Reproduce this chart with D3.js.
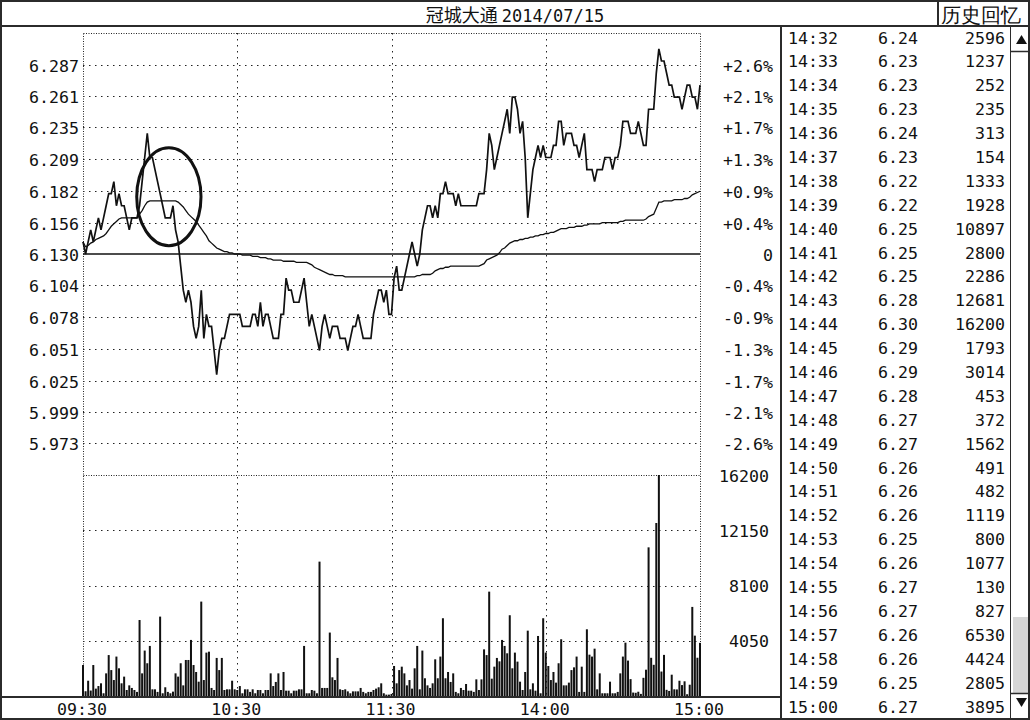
<!DOCTYPE html>
<html><head><meta charset="utf-8">
<script src="https://cdn.jsdelivr.net/npm/d3@7"></script>
<style>
html,body{margin:0;padding:0;background:#fff;}
svg{display:block;}
text{font-family:"DejaVu Sans Mono",monospace;fill:#111;}
</style></head><body>
<svg id="chart" width="1030" height="720"></svg>
<script>
// ---------------- data ----------------
const stockName = "冠城大通";
const tradeDate = "2014/07/15";
const historyLabel = "历史回忆";
const preClose = 6.13;
const priceTickLabels = ["6.287","6.261","6.235","6.209","6.182","6.156","6.130","6.104","6.078","6.051","6.025","5.999","5.973"];
const pctTickLabels = ["+2.6%","+2.1%","+1.7%","+1.3%","+0.9%","+0.4%","0","-0.4%","-0.9%","-1.3%","-1.7%","-2.1%","-2.6%"];
const volTickValues = [16200, 12150, 8100, 4050];
const timeTickLabels = ["09:30","10:30","11:30","14:00","15:00"];
const timeTickIndex = [0, 60, 120, 180, 240];

const prices = [
6.14,6.13,6.14,6.15,6.14,6.15,6.16,6.15,6.16,6.17,
6.18,6.18,6.19,6.17,6.18,6.17,6.17,6.16,6.15,6.16,
6.16,6.16,6.17,6.19,6.21,6.23,6.21,6.21,6.20,6.19,
6.18,6.17,6.16,6.16,6.16,6.17,6.15,6.14,6.12,6.10,
6.09,6.10,6.09,6.07,6.06,6.07,6.10,6.06,6.08,6.07,
6.07,6.05,6.03,6.05,6.06,6.06,6.07,6.08,6.08,6.08,
6.08,6.08,6.07,6.07,6.07,6.07,6.08,6.08,6.07,6.09,
6.07,6.08,6.08,6.07,6.06,6.06,6.06,6.08,6.08,6.11,
6.10,6.10,6.09,6.09,6.09,6.10,6.11,6.09,6.07,6.08,
6.07,6.06,6.05,6.07,6.08,6.07,6.06,6.07,6.07,6.07,
6.06,6.06,6.06,6.05,6.06,6.07,6.07,6.08,6.07,6.06,
6.06,6.06,6.06,6.08,6.09,6.10,6.10,6.09,6.10,6.08,
6.08,6.11,6.12,6.10,6.10,6.11,6.12,6.13,6.14,6.13,
6.12,6.13,6.15,6.16,6.17,6.17,6.16,6.17,6.16,6.18,
6.18,6.19,6.18,6.18,6.18,6.17,6.18,6.17,6.17,6.17,
6.17,6.17,6.17,6.17,6.18,6.18,6.18,6.20,6.23,6.22,
6.20,6.21,6.22,6.23,6.24,6.25,6.23,6.26,6.26,6.25,
6.23,6.24,6.21,6.16,6.18,6.20,6.21,6.22,6.21,6.22,
6.21,6.21,6.21,6.22,6.22,6.24,6.24,6.22,6.23,6.23,
6.23,6.22,6.22,6.21,6.22,6.23,6.20,6.20,6.20,6.19,
6.20,6.20,6.20,6.21,6.21,6.21,6.20,6.21,6.21,6.22,
6.24,6.24,6.24,6.23,6.23,6.23,6.24,6.23,6.22,6.22,
6.25,6.25,6.25,6.28,6.30,6.29,6.29,6.28,6.27,6.27,
6.26,6.26,6.26,6.25,6.26,6.27,6.27,6.26,6.26,6.25,6.27
];

const avgPrices = [
6.140,6.136,6.137,6.139,6.140,6.142,6.143,6.144,6.145,6.147,
6.150,6.153,6.155,6.157,6.159,6.160,6.160,6.160,6.160,6.160,
6.160,6.160,6.163,6.166,6.170,6.173,6.174,6.174,6.174,6.174,
6.174,6.174,6.174,6.174,6.174,6.174,6.174,6.173,6.171,6.169,
6.166,6.163,6.161,6.159,6.157,6.154,6.151,6.148,6.145,6.141,
6.139,6.137,6.135,6.134,6.133,6.132,6.132,6.131,6.131,6.130,
6.130,6.130,6.129,6.129,6.129,6.129,6.128,6.128,6.128,6.127,
6.127,6.127,6.126,6.126,6.125,6.125,6.125,6.125,6.124,6.124,
6.124,6.124,6.124,6.123,6.123,6.123,6.123,6.123,6.122,6.121,
6.119,6.118,6.117,6.116,6.115,6.114,6.113,6.113,6.112,6.112,
6.112,6.112,6.111,6.111,6.111,6.111,6.111,6.111,6.111,6.111,
6.111,6.111,6.111,6.111,6.111,6.111,6.111,6.111,6.111,6.111,
6.111,6.111,6.111,6.111,6.111,6.111,6.111,6.111,6.111,6.111,
6.112,6.112,6.113,6.113,6.113,6.113,6.114,6.116,6.117,6.118,
6.118,6.119,6.119,6.120,6.120,6.120,6.120,6.120,6.120,6.120,
6.120,6.120,6.120,6.120,6.120,6.121,6.122,6.125,6.126,6.127,
6.128,6.129,6.131,6.134,6.135,6.137,6.139,6.140,6.141,6.141,
6.142,6.142,6.143,6.143,6.144,6.144,6.145,6.145,6.146,6.146,
6.147,6.147,6.148,6.148,6.149,6.150,6.151,6.151,6.151,6.152,
6.152,6.152,6.153,6.153,6.153,6.154,6.154,6.155,6.155,6.155,
6.155,6.155,6.156,6.156,6.156,6.156,6.156,6.156,6.156,6.157,
6.157,6.158,6.158,6.158,6.158,6.158,6.158,6.158,6.158,6.159,
6.161,6.162,6.163,6.168,6.173,6.173,6.174,6.174,6.174,6.174,
6.175,6.175,6.175,6.175,6.176,6.176,6.177,6.179,6.180,6.181,6.182
];

const volumes = [
2270,350,1120,400,2270,540,730,930,200,1660,
3000,1900,1170,2890,2030,930,1420,440,780,590,
440,300,5570,1660,3330,2400,3670,490,490,300,
5820,200,640,300,200,320,1660,1420,2400,780,
2640,2640,4110,2270,1760,1050,6920,1170,3180,3250,
590,440,2790,1900,2790,440,490,490,1120,490,
440,730,200,490,490,300,490,200,440,440,
200,440,440,1660,730,1030,1660,440,1760,390,
390,200,390,390,490,490,3670,200,200,440,
390,200,9850,590,590,590,4650,1370,1170,2790,
490,440,490,340,200,340,340,340,590,300,
200,300,300,440,540,640,930,200,100,100,
150,2200,930,1900,2150,1660,780,1170,540,2030,
3670,490,3330,1300,780,590,930,2690,1300,2890,
5700,1300,1760,1030,1660,300,200,590,440,880,
390,390,300,1220,440,1220,3420,3000,7650,1270,
2150,2790,2540,4110,3670,3130,5920,2030,3180,2520,
1050,440,1760,4790,490,930,390,4400,200,5700,
3180,2200,1170,1760,980,2400,4160,780,780,980,
1900,2100,2890,300,2150,300,4890,3030,2890,3470,
490,1660,200,200,200,1050,200,200,300,1660,
2890,3910,2596,1237,252,235,313,154,1333,1928,
10897,2800,2286,12681,16200,1793,3014,453,372,1562,
491,482,1119,800,1077,130,827,6530,4424,2805,3895
];

const tableTimes = ["14:32","14:33","14:34","14:35","14:36","14:37","14:38","14:39","14:40","14:41","14:42","14:43","14:44","14:45","14:46","14:47","14:48","14:49","14:50","14:51","14:52","14:53","14:54","14:55","14:56","14:57","14:58","14:59","15:00"];
const tableStartIndex = 212;

// annotation ellipse (in data units)
const mark = {minute: 33.4, price: 6.1775, rMinutes: 12.5, rPrice: 0.0406};

// ---------------- layout ----------------
const svg = d3.select("#chart");
const L = 83, R = 700, T = 33, MID = 475, B = 696;
const frame = "#2b2b2b";
const span = 0.36640;   // total price span (14 ticks)
const x = d3.scaleLinear().domain([0, 240]).range([L, R]);
const y = d3.scaleLinear().domain([preClose - span/2, preClose + span/2]).range([MID, T]);
const yv = d3.scaleLinear().domain([0, 16200]).range([B, MID]);

svg.append("rect").attr("x",0).attr("y",0).attr("width",1030).attr("height",720).attr("fill","#fff");

// grid
const g = svg.append("g");
const dotted = "1.5,4.5", dense = "1,1.5";
priceTickLabels.forEach(t => {
  const v = +t;
  if (t === "6.130") return;
  g.append("line").attr("x1",L).attr("x2",R).attr("y1",Math.round(y(v))+0.5).attr("y2",Math.round(y(v))+0.5)
    .attr("stroke","#222").attr("stroke-dasharray",dotted);
});
volTickValues.slice(1).forEach(v => {
  g.append("line").attr("x1",L).attr("x2",R).attr("y1",Math.round(yv(v))+0.5).attr("y2",Math.round(yv(v))+0.5)
    .attr("stroke","#222").attr("stroke-dasharray",dotted);
});
[60,120,180].forEach(m => {
  g.append("line").attr("x1",Math.round(x(m))+0.5).attr("x2",Math.round(x(m))+0.5).attr("y1",T).attr("y2",B)
    .attr("stroke","#222").attr("stroke-dasharray",dotted);
});
// dense borders
[[L,T,R,T],[L,MID,R,MID],[L,T,L,B],[R,T,R,B]].forEach(([x1,y1,x2,y2]) => {
  g.append("line").attr("x1",Math.round(x1)+0.5).attr("x2",Math.round(x2)+0.5).attr("y1",Math.round(y1)+0.5).attr("y2",Math.round(y2)+0.5)
    .attr("stroke","#222").attr("stroke-dasharray",dense);
});
// pre-close line
g.append("line").attr("x1",L).attr("x2",R).attr("y1",y(preClose)).attr("y2",y(preClose)).attr("stroke","#111").attr("stroke-width",1.3);

// volume bars
svg.append("g").selectAll("rect").data(volumes).join("rect")
  .attr("x",(d,i)=>x(i)-1).attr("width",2)
  .attr("y",d=>yv(d)).attr("height",d=>B-yv(d)).attr("fill","#111");

// average line
svg.append("path").datum(avgPrices)
  .attr("d", d3.line().x((d,i)=>x(i)).y(d=>y(d)))
  .attr("fill","none").attr("stroke","#111").attr("stroke-width",1.3);
// price line
svg.append("path").datum(prices)
  .attr("d", d3.line().x((d,i)=>x(i)).y(d=>y(d)))
  .attr("fill","none").attr("stroke","#111").attr("stroke-width",1.7);

// ellipse annotation
svg.append("ellipse").attr("cx",x(mark.minute)).attr("cy",y(mark.price))
  .attr("rx",x(mark.rMinutes)-x(0)).attr("ry",y(preClose)-y(preClose+mark.rPrice))
  .attr("fill","none").attr("stroke","#111").attr("stroke-width",3);

// axis labels
const fs = "16.6px";
svg.append("g").selectAll("text").data(priceTickLabels).join("text")
  .attr("x",79).attr("y",d=>y(+d)+7).attr("text-anchor","end").attr("font-size",fs).text(d=>d);
svg.append("g").selectAll("text").data(pctTickLabels).join("text")
  .attr("x",773).attr("y",(d,i)=>y(+priceTickLabels[i])+7).attr("text-anchor","end").attr("font-size",fs).text(d=>d);
svg.append("g").selectAll("text").data(volTickValues).join("text")
  .attr("x",769).attr("y",d=>yv(d)+6.5).attr("text-anchor","end").attr("font-size",fs).text(d=>d);
svg.append("g").selectAll("text").data(timeTickLabels).join("text")
  .attr("x",(d,i)=>x(timeTickIndex[i])-1).attr("y",715).attr("text-anchor","middle").attr("font-size",fs).text(d=>d);

// frame lines
const fl = (x1,y1,x2,y2,w=2) => svg.append("line").attr("x1",x1).attr("y1",y1).attr("x2",x2).attr("y2",y2).attr("stroke",frame).attr("stroke-width",w);
fl(0,697,781,697);
fl(781,26,781,720);
fl(0,26,1030,26);
fl(938,0,938,26);
fl(1010.5,27,1010.5,720,1);
svg.append("rect").attr("x",1).attr("y",1).attr("width",1028).attr("height",718).attr("fill","none").attr("stroke",frame).attr("stroke-width",2);

// title
const title = svg.append("text").attr("x",515).attr("y",21.5).attr("text-anchor","middle");
title.append("tspan").attr("font-family","Noto Sans CJK SC").attr("font-size","18px").text(stockName + " ");
title.append("tspan").attr("font-size","17px").text(tradeDate);
svg.append("text").attr("x",941).attr("y",21.5).attr("font-family","Noto Sans CJK SC").attr("font-size","19.5px").text(historyLabel);

// table
const step = (706 - 37) / 28;
const fmt2 = d3.format(".2f");
const rows = svg.append("g").selectAll("g").data(tableTimes).join("g")
  .attr("transform",(d,i)=>`translate(0,${37 + i*step + 6.5})`);
rows.append("text").attr("x",788).attr("font-size",fs).text(d=>d);
rows.append("text").attr("x",878).attr("font-size",fs).text((d,i)=>fmt2(prices[tableStartIndex+i]));
rows.append("text").attr("x",1005).attr("text-anchor","end").attr("font-size",fs).text((d,i)=>volumes[tableStartIndex+i]);

// scrollbar
svg.append("rect").attr("x",1013).attr("y",617).attr("width",15).attr("height",76).attr("fill","#d6d6d6");
fl(1011,51.5,1028,51.5,1.5);
fl(1011,693.5,1028,693.5,1.5);
svg.append("path").attr("d","M1016,44 L1021.5,35 L1027,44 Z").attr("fill","#111");
svg.append("path").attr("d","M1016,698 L1021.5,707 L1027,698 Z").attr("fill","#111");
</script>
</body></html>
